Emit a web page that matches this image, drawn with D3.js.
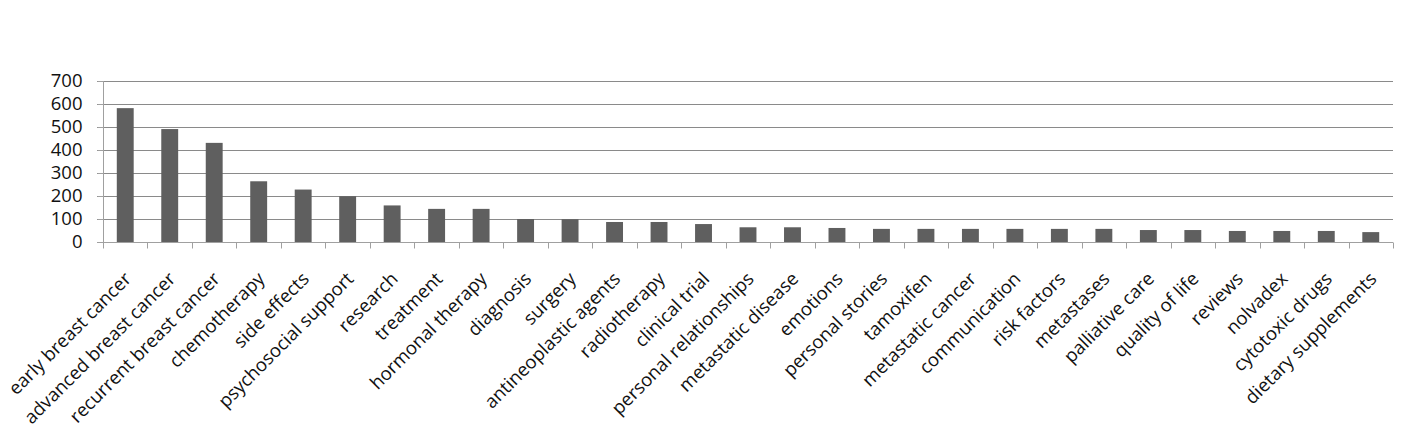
<!DOCTYPE html>
<html><head><meta charset="utf-8">
<script src="https://cdn.jsdelivr.net/npm/d3@7"></script>
<style>body{margin:0;background:#fff}svg{display:block}</style>
</head><body>
<script>
const categories = ["early breast cancer","advanced breast cancer","recurrent breast cancer","chemotherapy","side effects","psychosocial support","research","treatment","hormonal therapy","diagnosis","surgery","antineoplastic agents","radiotherapy","clinical trial","personal relationships","metastatic disease","emotions","personal stories","tamoxifen","metastatic cancer","communication","risk factors","metastases","palliative care","quality of life","reviews","nolvadex","cytotoxic drugs","dietary supplements"];
const values = [582,491,431,264,228,199,159,144,144,100,99,87,87,78,64,64,61,57,57,57,57,57,57,52,52,48,48,48,43];
const yTicks = [0,100,200,300,400,500,600,700];

(function () {
const W = 1415, H = 445;
const mLeft = 103, mRight = 1393, mTop = 81, mBottom = 242;
const svg = d3.select("body").append("svg").attr("width", W).attr("height", H);
const x = d3.scaleBand().domain(categories).range([mLeft, mRight]).paddingInner(0.62).paddingOuter(0.31);
const y = d3.scaleLinear().domain([0, 700]).range([mBottom, mTop]);
const font = "'Open Sans', 'Noto Sans', sans-serif";

// gridlines (extend slightly left of axis as tick marks)
svg.append("g").selectAll("line").data(yTicks.filter(d => d > 0)).join("line")
  .attr("x1", mLeft - 6).attr("x2", mRight).attr("y1", d => Math.round(y(d)) + 0.5).attr("y2", d => Math.round(y(d)) + 0.5)
  .attr("stroke", "#8a8a8a").attr("stroke-width", 1);

// bars
svg.append("g").selectAll("rect").data(categories).join("rect")
  .attr("x", d => x(d)).attr("width", x.bandwidth())
  .attr("y", (d, i) => y(values[i])).attr("height", (d, i) => mBottom - y(values[i]))
  .attr("fill", "#5f5f5f");

// y axis
const yAxis = d3.axisLeft(y).tickValues(yTicks).tickSize(6).tickPadding(15);
const gy = svg.append("g").attr("transform", `translate(${mLeft + 0.5},0)`).call(yAxis);
gy.select(".domain").attr("stroke", "#a0a0a0").attr("d", `M0,${mTop}V${mBottom}`);
gy.selectAll(".tick line").attr("stroke", "#a0a0a0");
gy.selectAll("text").attr("font-family", font).attr("font-size", 18.5).attr("fill", "#111");

// x axis
const xAxis = d3.axisBottom(x).tickSize(0).tickFormat("");
const gx = svg.append("g").attr("transform", `translate(0,${mBottom + 0.5})`).call(xAxis);
gx.select(".domain").attr("stroke", "#a0a0a0").attr("d", `M${mLeft - 6},0H${mRight}`);
const boundaries = d3.range(categories.length + 1).map(i => mLeft + i * x.step());
gx.append("g").selectAll("line").data(boundaries).join("line")
  .attr("x1", d => Math.round(d) + 0.5).attr("x2", d => Math.round(d) + 0.5)
  .attr("y1", 0).attr("y2", 6).attr("stroke", "#a0a0a0");

// labels
svg.append("g").selectAll("text").data(categories).join("text")
  .attr("transform", d => `translate(${x(d) + x.bandwidth() / 2 + 7},${mBottom + 38}) rotate(-45)`)
  .attr("text-anchor", "end")
  .attr("font-family", font).attr("font-size", 18.5).attr("fill", "#111")
  .text(d => d);
})();
</script>
</body></html>
